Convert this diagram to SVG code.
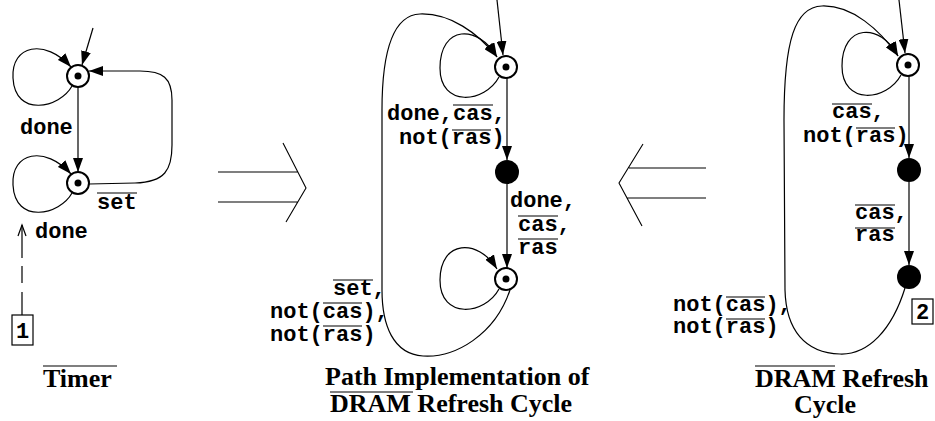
<svg xmlns="http://www.w3.org/2000/svg" width="935" height="421" viewBox="0 0 935 421">
<defs>
<marker id="ah" markerUnits="userSpaceOnUse" markerWidth="15" markerHeight="10" refX="14" refY="5" orient="auto"><path d="M0,0 L14,5 L0,10 z" fill="#000"/></marker>
</defs>
<style>
.e{fill:none;stroke:#000;stroke-width:1.2}
.ea{fill:none;stroke:#000;stroke-width:1.2;marker-end:url(#ah)}
.ring{fill:#fff;stroke:#000;stroke-width:2}
.dot{fill:#000}
.lbl{font-family:"Liberation Mono",monospace;font-weight:bold;font-size:22px;fill:#000}
.ttl{font-family:"Liberation Serif",serif;font-weight:bold;font-size:26px;fill:#000}
.ol{stroke:#000;stroke-width:1.2}
.imp{fill:none;stroke:#000;stroke-width:1.1}
.box{fill:#fff;stroke:#000;stroke-width:1.2}
</style>
<rect x="0" y="0" width="935" height="421" fill="#fff"/>

<g id="connectors">
  <!-- Timer -->
  <path class="ea" d="M 93 28 L 82 65"/>
  <path class="ea" d="M 72 86 C 60 108, 15 118, 13 78 C 11 45, 45 38, 71 67"/>
  <path class="ea" d="M 78 87 L 78 172"/>
  <path class="ea" d="M 72 193 C 60 215, 15 225, 13 185 C 11 152, 45 145, 71 174"/>
  <path class="ea" d="M 89 184 L 135 183 C 165 182, 172 170, 172 145 L 172 100 C 172 78, 163 71, 140 71 L 89 71"/>
  <path class="e" stroke-width="1.5" d="M22 315 L22 292 M22 283 L22 266 M22 258 L22 225"/>
  <path class="e" d="M18 236 L22 225 L26 236"/>
  <!-- Middle -->
  <path class="ea" d="M 497 0 L 503 55"/>
  <path class="ea" d="M 499 77 C 485 103, 440 108, 440 68 C 440 25, 478 24, 497 57"/>
  <path class="ea" d="M 510 290 C 495 335, 455 358, 423 356 C 393 354, 382 325, 382 290 L 382 110 C 382 45, 395 15, 420 14 C 450 13, 478 33, 497 57"/>
  <path class="ea" d="M 507 78 L 507 160"/>
  <path class="ea" d="M 507 184 L 507 268"/>
  <path class="ea" d="M 499 289 C 485 315, 440 320, 440 280 C 440 240, 478 238, 497 269"/>
  <!-- Right -->
  <path class="ea" d="M 899 0 L 905 53"/>
  <path class="ea" d="M 901 75 C 887 101, 842 106, 842 66 C 842 24, 880 22, 898 56"/>
  <path class="ea" d="M 905 288 C 892 330, 868 355, 840 354 C 805 353, 786 330, 785 290 L 784 120 C 784 40, 795 7, 822 6 C 852 5, 880 30, 898 56"/>
  <path class="ea" d="M 909 76 L 909 158"/>
  <path class="ea" d="M 909 182 L 909 265"/>
  <!-- implication arrows -->
  <path class="imp" d="M 218 172 L 298 172 M 218 202 L 298 202 M 283 143 L 306 188 L 286 222"/>
  <path class="imp" d="M 706 168 L 629 168 M 706 198 L 627 198 M 643 144 L 619 183 L 642 226"/>
</g>

<g id="timer-s1"><circle class="ring" cx="78" cy="76" r="11"/><circle class="dot" cx="78" cy="76" r="3.5"/></g>
<g id="timer-s2"><circle class="ring" cx="78" cy="183" r="11"/><circle class="dot" cx="78" cy="183" r="3.5"/></g>
<g id="mid-a"><circle class="ring" cx="506" cy="67" r="11"/><circle class="dot" cx="506" cy="67" r="3.5"/></g>
<g id="mid-b"><circle class="dot" cx="507" cy="172" r="12"/></g>
<g id="mid-c"><circle class="ring" cx="506" cy="279" r="11"/><circle class="dot" cx="506" cy="279" r="3.5"/></g>
<g id="right-a"><circle class="ring" cx="908" cy="65" r="11"/><circle class="dot" cx="908" cy="65" r="3.5"/></g>
<g id="right-b"><circle class="dot" cx="909" cy="170" r="12"/></g>
<g id="right-c"><circle class="dot" cx="909" cy="277" r="12"/></g>
<g id="box-1"><rect class="box" x="12" y="315" width="21" height="30"/><text class="lbl" x="22.5" y="338" text-anchor="middle">1</text></g>
<g id="box-2"><rect class="box" x="912" y="299" width="21" height="25"/><text class="lbl" x="922.5" y="319" text-anchor="middle">2</text></g>

<g id="labels">
  <text class="lbl" x="20" y="134">done</text>
  <text class="lbl" x="97" y="209">set</text><line class="ol" x1="97" y1="193" x2="137" y2="193"/>
  <text class="lbl" x="35" y="238">done</text>

  <text class="lbl" x="387" y="120">done,cas,</text><line class="ol" x1="453" y1="105" x2="493" y2="105"/>
  <text class="lbl" x="399" y="144">not(ras)</text><line class="ol" x1="452" y1="130" x2="491" y2="130"/>
  <text class="lbl" x="510" y="207">done,</text>
  <text class="lbl" x="518" y="231">cas,</text><line class="ol" x1="518" y1="216" x2="558" y2="216"/>
  <text class="lbl" x="518" y="254">ras</text><line class="ol" x1="518" y1="239" x2="558" y2="239"/>
  <text class="lbl" x="333" y="295">set,</text><line class="ol" x1="333" y1="280" x2="373" y2="280"/>
  <text class="lbl" x="270" y="318">not(cas),</text><line class="ol" x1="323" y1="303" x2="362" y2="303"/>
  <text class="lbl" x="270" y="341">not(ras)</text><line class="ol" x1="323" y1="326" x2="362" y2="326"/>

  <text class="lbl" x="832" y="118">cas,</text><line class="ol" x1="832" y1="104" x2="872" y2="104"/>
  <text class="lbl" x="803" y="142">not(ras)</text><line class="ol" x1="856" y1="128" x2="895" y2="128"/>
  <text class="lbl" x="855" y="219">cas,</text><line class="ol" x1="855" y1="205" x2="895" y2="205"/>
  <text class="lbl" x="855" y="241">ras</text><line class="ol" x1="855" y1="228" x2="895" y2="228"/>
  <text class="lbl" x="673" y="311">not(cas),</text><line class="ol" x1="726" y1="297" x2="765" y2="297"/>
  <text class="lbl" x="673" y="333">not(ras)</text><line class="ol" x1="726" y1="319" x2="765" y2="319"/>
</g>

<g id="titles">
  <text class="ttl" x="43" y="387">Timer</text><line class="ol" x1="43" y1="366" x2="117" y2="366"/>
  <text class="ttl" x="325" y="385">Path Implementation of</text>
  <text class="ttl" x="330" y="412">DRAM Refresh Cycle</text><line class="ol" x1="330" y1="392" x2="413" y2="392"/>
  <text class="ttl" x="755" y="387">DRAM Refresh</text><line class="ol" x1="755" y1="366" x2="835" y2="366"/>
  <text class="ttl" x="794" y="413">Cycle</text>
</g>
</svg>
